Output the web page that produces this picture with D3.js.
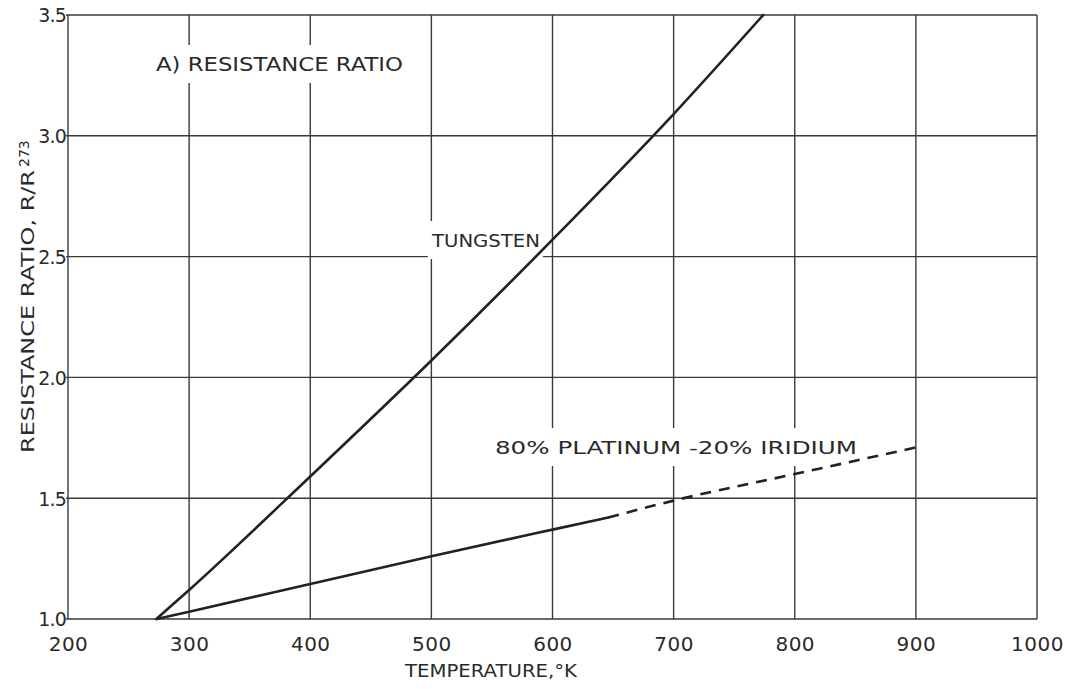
<!DOCTYPE html>
<html>
<head>
<meta charset="utf-8">
<script src="https://cdn.jsdelivr.net/npm/d3@7"></script>
<style>
  html, body { margin: 0; padding: 0; background: #fff; }
  svg { display: block; }
  text { font-family: "DejaVu Sans", "Liberation Sans", sans-serif; fill: #2a2a2a; }
</style>
</head>
<body>
<svg id="chart" width="1074" height="689"></svg>
<script>
// Temperature (K) and resistance ratio R/R273 readings
const xTicks = [200, 300, 400, 500, 600, 700, 800, 900, 1000];
const xTickLabels = ["200", "300", "400", "500", "600", "700", "800", "900", "1000"];
const yTicks = [1.0, 1.5, 2.0, 2.5, 3.0, 3.5];
const yTickLabels = ["1.0", "1.5", "2.0", "2.5", "3.0", "3.5"];

const tungstenT = [273, 300, 400, 500, 600, 700, 774];
const tungstenR = [1.0, 1.12, 1.59, 2.07, 2.57, 3.09, 3.5];

const ptIrSolidT = [273, 300, 400, 500, 600, 646];
const ptIrSolidR = [1.0, 1.03, 1.145, 1.26, 1.37, 1.42];
const ptIrDashT = [646, 700, 800, 900];
const ptIrDashR = [1.42, 1.49, 1.60, 1.71];

const svg = d3.select("#chart");
const plotLeft = 68, plotRight = 1037, plotTop = 15, plotBottom = 619;

const x = d3.scaleLinear().domain([200, 1000]).range([plotLeft, plotRight]);
const y = d3.scaleLinear().domain([1.0, 3.5]).range([plotBottom, plotTop]);

const gridColor = "#3a3a3a";
const ink = "#2a2a2a";

// grid lines
const grid = svg.append("g").attr("class", "grid");
grid.selectAll("line.v").data(xTicks).join("line").attr("class", "v")
  .attr("x1", d => x(d)).attr("x2", d => x(d))
  .attr("y1", plotTop).attr("y2", plotBottom)
  .attr("stroke", gridColor).attr("stroke-width", 1.4);
grid.selectAll("line.h").data(yTicks).join("line").attr("class", "h")
  .attr("x1", plotLeft - 2).attr("x2", plotRight)
  .attr("y1", d => y(d)).attr("y2", d => y(d))
  .attr("stroke", gridColor).attr("stroke-width", 1.4);

// labels on the plot, with a white backing that breaks the grid
const labels = svg.append("g").attr("class", "labels");
function plotLabel(str, cx, cy, width, size) {
  const g = labels.append("g");
  const t = g.append("text").attr("x", cx).attr("y", cy)
    .attr("text-anchor", "middle").attr("dominant-baseline", "central")
    .attr("font-size", size).attr("textLength", width).attr("lengthAdjust", "spacingAndGlyphs")
    .text(str);
  const b = t.node().getBBox();
  g.insert("rect", "text").attr("x", b.x - 3).attr("y", cy - 19)
    .attr("width", b.width + 6).attr("height", 38).attr("fill", "#fff");
}
plotLabel("A) RESISTANCE RATIO", 279.5, 64, 247, 19);
plotLabel("TUNGSTEN", 486, 240, 108, 18);
plotLabel("80% PLATINUM -20% IRIDIUM", 676, 447, 362, 18);

// curves
const line = d3.line().x(d => x(d[0])).y(d => y(d[1])).curve(d3.curveMonotoneX);
const curves = svg.append("g").attr("fill", "none").attr("stroke", "#222")
  .attr("stroke-width", 2.6).attr("stroke-linecap", "round");
curves.append("path").attr("d", line(d3.zip(tungstenT, tungstenR)));
curves.append("path").attr("d", line(d3.zip(ptIrSolidT, ptIrSolidR)));
curves.append("path").attr("d", line(d3.zip(ptIrDashT, ptIrDashR)))
  .attr("stroke-dasharray", "11,8").attr("stroke-linecap", "butt");

// axis tick labels
const xAxis = d3.axisBottom(x).tickValues(xTicks)
  .tickFormat((d, i) => xTickLabels[i]).tickSize(0).tickPadding(18);
const gx = svg.append("g").attr("transform", `translate(0,${plotBottom})`).call(xAxis);
gx.select(".domain").remove();
gx.selectAll("text").attr("font-size", 20).attr("fill", ink)
  .attr("font-family", "DejaVu Sans").attr("letter-spacing", 0.5);

const yAxis = d3.axisLeft(y).tickValues(yTicks)
  .tickFormat((d, i) => yTickLabels[i]).tickSize(0).tickPadding(2);
const gy = svg.append("g").attr("transform", `translate(${plotLeft},0)`).call(yAxis);
gy.select(".domain").remove();
gy.selectAll("text").attr("font-size", 19).attr("fill", ink)
  .attr("font-family", "DejaVu Sans").attr("letter-spacing", -0.8).attr("dy", "0.36em");

// axis titles
svg.append("text").attr("x", 491).attr("y", 670)
  .attr("text-anchor", "middle").attr("dominant-baseline", "central")
  .attr("font-size", 18).attr("textLength", 172).attr("lengthAdjust", "spacingAndGlyphs")
  .text("TEMPERATURE,°K");

const yt = svg.append("text")
  .attr("transform", "translate(34,453) rotate(-90)")
  .attr("x", 0).attr("y", 0).attr("font-size", 18);
yt.append("tspan").attr("textLength", 283).attr("lengthAdjust", "spacingAndGlyphs")
  .text("RESISTANCE RATIO, R/R");
yt.append("tspan").attr("font-size", 14).attr("dy", -5).attr("dx", 3).text("273");
</script>
</body>
</html>
